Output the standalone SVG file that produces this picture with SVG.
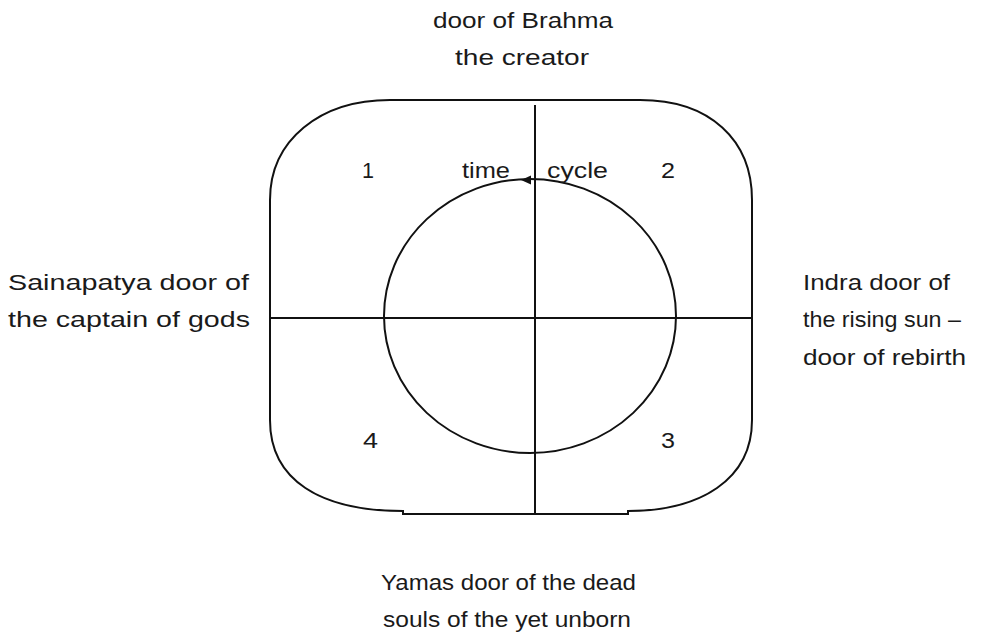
<svg xmlns="http://www.w3.org/2000/svg" width="988" height="635" viewBox="0 0 988 635">
<style>
  .ln { fill: none; stroke: #111; stroke-width: 2; }
  .t { font-family: "Liberation Sans", Arial, sans-serif; font-size: 22px; fill: #1a1a1a; }
</style>
<rect width="988" height="635" fill="#ffffff"/>
<g id="frame">
  <path class="ln" d="M 270,200 C 270,140 320,100 390,100 L 640,100 C 710,100 752,140 752,200 L 752,420 C 752,480 700,511 628,511 L 628,514 L 403,514 L 403,511 C 320,511 270,480 270,420 Z"/>
</g>
<g id="time-cycle">
  <ellipse class="ln" cx="530" cy="316" rx="146" ry="137"/>
  <polygon points="521,180 531,175.5 531,184.5" fill="#111"/>
  <text class="t" x="462" y="178" textLength="48" lengthAdjust="spacingAndGlyphs">time</text>
  <text class="t" x="547" y="178" textLength="61" lengthAdjust="spacingAndGlyphs">cycle</text>
</g>
<g id="connectors">
  <line class="ln" x1="270" y1="318" x2="752" y2="318"/>
  <line class="ln" x1="535" y1="105" x2="535" y2="514"/>
</g>
<g id="quadrants">
  <text class="t" x="362" y="178" textLength="12" lengthAdjust="spacingAndGlyphs">1</text>
  <text class="t" x="661" y="178" textLength="14" lengthAdjust="spacingAndGlyphs">2</text>
  <text class="t" x="661" y="448" textLength="14" lengthAdjust="spacingAndGlyphs">3</text>
  <text class="t" x="363" y="448" textLength="15" lengthAdjust="spacingAndGlyphs">4</text>
</g>
<g id="north">
  <text class="t" x="433" y="28" textLength="180" lengthAdjust="spacingAndGlyphs">door of Brahma</text>
  <text class="t" x="455" y="65" textLength="134" lengthAdjust="spacingAndGlyphs">the creator</text>
</g>
<g id="west">
  <text class="t" x="8" y="290" textLength="241" lengthAdjust="spacingAndGlyphs">Sainapatya door of</text>
  <text class="t" x="8" y="327" textLength="242" lengthAdjust="spacingAndGlyphs">the captain of gods</text>
</g>
<g id="east">
  <text class="t" x="803" y="290" textLength="147" lengthAdjust="spacingAndGlyphs">Indra door of</text>
  <text class="t" x="803" y="327" textLength="158" lengthAdjust="spacingAndGlyphs">the rising sun –</text>
  <text class="t" x="803" y="365" textLength="163" lengthAdjust="spacingAndGlyphs">door of rebirth</text>
</g>
<g id="south">
  <text class="t" x="381" y="590" textLength="255" lengthAdjust="spacingAndGlyphs">Yamas door of the dead</text>
  <text class="t" x="383" y="627" textLength="248" lengthAdjust="spacingAndGlyphs">souls of the yet unborn</text>
</g>
</svg>
